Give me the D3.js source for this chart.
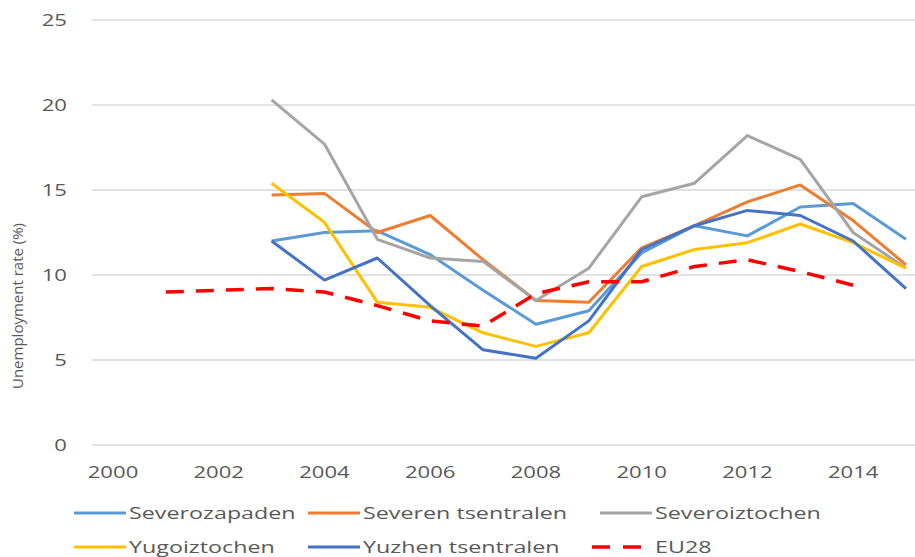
<!DOCTYPE html>
<meta charset="utf-8">
<style>
  body { margin: 0; background: #fff; }
  svg { font-family: "Open Sans", sans-serif; }
</style>
<svg width="915" height="557"></svg>
<script src="https://d3js.org/d3.v7.min.js"></script>
<script>

var years = d3.range(2000, 2016);
var yTicks = [0, 5, 10, 15, 20, 25];
var xTicks = [2000, 2002, 2004, 2006, 2008, 2010, 2012, 2014];

// null where there is no value
var severozapaden     = [null, null, null, 12.0, 12.5, 12.6, 11.2, 9.1, 7.1, 7.9, 11.3, 12.9, 12.3, 14.0, 14.2, 12.1];
var severenTsentralen = [null, null, null, 14.7, 14.8, 12.5, 13.5, 10.9, 8.5, 8.4, 11.6, 12.9, 14.3, 15.3, 13.2, 10.6];
var severoiztochen    = [null, null, null, 20.3, 17.7, 12.1, 11.0, 10.8, 8.5, 10.4, 14.6, 15.4, 18.2, 16.8, 12.5, 10.4];
var yugoiztochen      = [null, null, null, 15.4, 13.1, 8.4, 8.1, 6.6, 5.8, 6.6, 10.5, 11.5, 11.9, 13.0, 11.9, 10.4];
var yuzhenTsentralen  = [null, null, null, 12.0, 9.7, 11.0, 8.2, 5.6, 5.1, 7.3, 11.5, 12.9, 13.8, 13.5, 12.0, 9.2];
var eu28              = [null, 9.0, 9.1, 9.2, 9.0, 8.2, 7.3, 7.0, 8.9, 9.6, 9.6, 10.5, 10.9, 10.2, 9.4, null];

var series = [
  { name: "Severozapaden", values: severozapaden, color: "#5b9bd5" },
  { name: "Severen tsentralen", values: severenTsentralen, color: "#ed7d31" },
  { name: "Severoiztochen", values: severoiztochen, color: "#a5a5a5" },
  { name: "Yugoiztochen", values: yugoiztochen, color: "#ffc000" },
  { name: "Yuzhen tsentralen", values: yuzhenTsentralen, color: "#4472c4" },
  { name: "EU28", values: eu28, color: "#ff0000", dash: "18,12" }
];

var svg = d3.select("svg");

var x = d3.scaleLinear().domain([2000, 2015]).range([113, 906]);
var y = d3.scaleLinear().domain([0, 25]).range([445, 20]);

// the source picture is stretched sideways, so the text is too
var stretch = 1.3;

// gridlines
svg.append("g")
  .selectAll("line")
  .data(yTicks)
  .enter().append("line")
    .attr("x1", 92)
    .attr("x2", 915)
    .attr("y1", y)
    .attr("y2", y)
    .attr("stroke", "#d9d9d9")
    .attr("stroke-width", 1.5);

// y tick labels
svg.append("g")
  .selectAll("text")
  .data(yTicks)
  .enter().append("text")
    .attr("transform", function(d) { return "translate(67," + y(d) + ")scale(" + stretch + ",1)"; })
    .attr("dy", "0.35em")
    .attr("text-anchor", "end")
    .attr("font-size", 17)
    .attr("fill", "#595959")
    .text(function(d) { return d; });

// x tick labels
svg.append("g")
  .selectAll("text")
  .data(xTicks)
  .enter().append("text")
    .attr("transform", function(d) { return "translate(" + x(d) + ",472)scale(" + stretch + ",1)"; })
    .attr("dy", "0.35em")
    .attr("text-anchor", "middle")
    .attr("font-size", 17)
    .attr("fill", "#595959")
    .text(function(d) { return d; });

svg.append("text")
  .attr("transform", "translate(23,306)rotate(-90)")
  .attr("text-anchor", "middle")
  .attr("font-size", 15)
  .attr("fill", "#595959")
  .text("Unemployment rate (%)");

var line = d3.line()
  .defined(function(d) { return d != null; })
  .x(function(d, i) { return x(years[i]); })
  .y(function(d) { return y(d); });

svg.append("g")
  .selectAll("path")
  .data(series)
  .enter().append("path")
    .attr("d", function(d) { return line(d.values); })
    .attr("fill", "none")
    .attr("stroke", function(d) { return d.color; })
    .attr("stroke-width", function(d) { return d.dash ? 3.5 : 3; })
    .attr("stroke-dasharray", function(d) { return d.dash || null; })
    .attr("stroke-linejoin", "round");

// legend, two rows of three
var legendX = [74, 308, 600];
var legend = svg.append("g")
  .selectAll("g")
  .data(series)
  .enter().append("g")
    .attr("transform", function(d, i) {
      var col = i % 3, row = Math.floor(i / 3);
      var lx = legendX[col] - (d.dash ? 8 : 0);
      return "translate(" + lx + "," + (513 + row * 34) + ")";
    });

legend.append("line")
  .attr("x1", 0)
  .attr("x2", function(d) { return d.dash ? 58 : 52; })
  .attr("stroke", function(d) { return d.color; })
  .attr("stroke-width", function(d) { return d.dash ? 3.5 : 3; })
  .attr("stroke-dasharray", function(d) { return d.dash ? "18,13" : null; });

legend.append("text")
  .attr("transform", function(d) { return "translate(" + (d.dash ? 63 : 55) + ",0)scale(1.37,1)"; })
  .attr("dy", "0.35em")
  .attr("font-size", 17)
  .attr("fill", "#595959")
  .text(function(d) { return d.name; });

</script>
